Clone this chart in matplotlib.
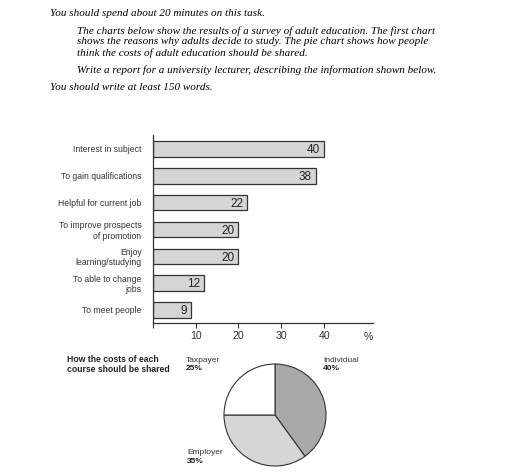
import matplotlib.pyplot as plt

# survey data
reasons = ['Interest in subject', 'To gain qualifications', 'Helpful for current job',
           'To improve prospects\nof promotion', 'Enjoy\nlearning/studying',
           'To able to change\njobs', 'To meet people']
percents = [40, 38, 22, 20, 20, 12, 9]
ticks = [10, 20, 30, 40]

sharers = ['Individual', 'Employer', 'Taxpayer']
shares = [40, 35, 25]
pie_colors = ['#a9a9a9', '#d6d6d6', '#ffffff']

W, H = 512, 474
fig = plt.figure(figsize=(W / 100, H / 100), dpi=100)

def fx(px):
    return px / W

def fy(py):
    return 1 - py / H

# task text at the top
serif = 'Liberation Serif'
hsize = 8.0
fig.text(fx(50), fy(14), 'You should spend about 20 minutes on this task.',
         family=serif, style='italic', fontsize=hsize, va='center')
para = ['The charts below show the results of a survey of adult education. The first chart',
        'shows the reasons why adults decide to study. The pie chart shows how people',
        'think the costs of adult education should be shared.']
for i, line in enumerate(para):
    fig.text(fx(77), fy(31 + i * 11), line, family=serif, style='italic',
             fontsize=hsize, va='center')
fig.text(fx(77), fy(70), 'Write a report for a university lecturer, describing the information shown below.',
         family=serif, style='italic', fontsize=hsize, va='center')
fig.text(fx(50), fy(87), 'You should write at least 150 words.',
         family=serif, style='italic', fontsize=hsize, va='center')

# bar chart
sans = 'Liberation Sans'
ax = fig.add_axes([fx(152.7), fy(323), fx(373) - fx(152.7), (323 - 135) / H])
ypos = list(range(len(reasons)))
ax.barh(ypos, percents, height=0.58, color='#d5d5d5', edgecolor='#333333', linewidth=0.9)
for y, v in zip(ypos, percents):
    ax.text(v - 0.9, y + 0.05, str(v), ha='right', va='center', fontsize=8.5,
            family=sans, color='#222222')
ax.set_xlim(0, 51.4)
ax.set_ylim(6.485, -0.52)
ax.set_yticks(ypos)
ax.set_yticklabels(reasons, family=sans, fontsize=6.2, color='#333333',
                   multialignment='right', linespacing=1.15)
ax.tick_params(axis='y', length=0, pad=8)
ax.set_xticks([0] + ticks)
ax.set_xticklabels([''] + [str(t) for t in ticks], family=sans, fontsize=7.6, color='#333333')
ax.tick_params(axis='x', length=3.5, width=0.8, color='#333333', pad=2.5)
for s in ['top', 'right']:
    ax.spines[s].set_visible(False)
ax.spines['left'].set_linewidth(0.9)
ax.spines['bottom'].set_linewidth(0.9)
ax.spines['left'].set_color('#333333')
ax.spines['bottom'].set_color('#333333')
fig.text(fx(368), fy(337), '%', family=sans, fontsize=7.6, color='#333333',
         ha='center', va='center')

# pie chart
r = 51
cx, cy = 275, 415
pax = fig.add_axes([fx(cx - r), fy(cy + r), 2 * r / W, 2 * r / H])
pax.pie(shares, colors=pie_colors, startangle=90, counterclock=False,
        wedgeprops=dict(edgecolor='#333333', linewidth=0.8))
pax.set_xlim(-1, 1)
pax.set_ylim(-1, 1)
pax.set_aspect('auto')

fig.text(fx(67), fy(364.5), 'How the costs of each\ncourse should be shared', family=sans,
         fontsize=6.2, fontweight='bold', color='#222222', va='center', linespacing=1.05)
label_pos = {'Individual': (323, 364.5), 'Employer': (187, 457), 'Taxpayer': (186, 364.5)}
for name, val in zip(sharers, shares):
    x, y = label_pos[name]
    fig.text(fx(x), fy(y - 4.5), name, family=sans, fontsize=6.0, color='#333333', va='center')
    fig.text(fx(x), fy(y + 4.5), f'{val}%', family=sans, fontsize=6.0, fontweight='bold',
             color='#222222', va='center')

fig.savefig('out.png', dpi=100)
